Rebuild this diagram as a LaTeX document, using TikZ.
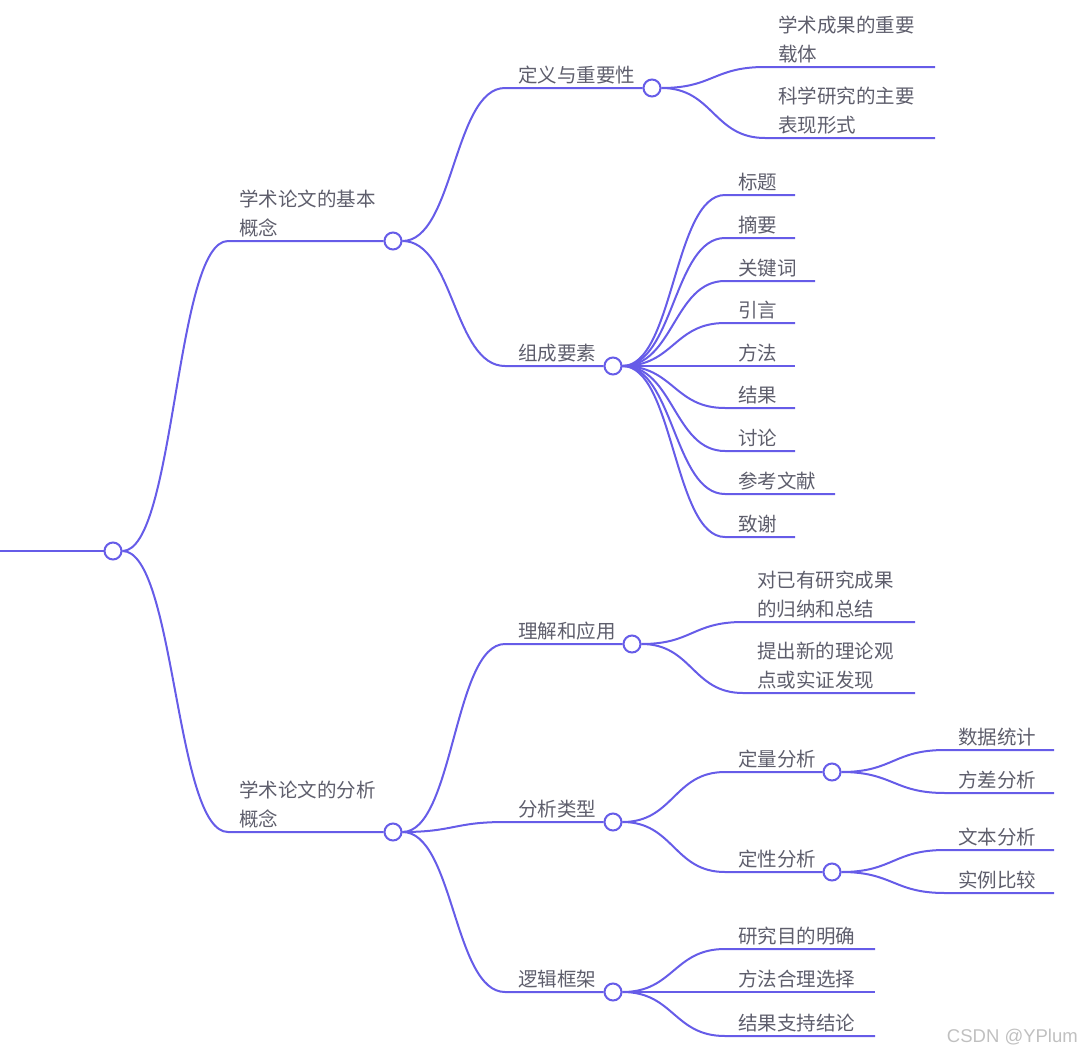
\documentclass[tikz,border=0pt]{standalone}
\usepackage{fontspec}
\setsansfont{Liberation Sans}
\newfontfamily\cjk{Noto Sans CJK SC}
\usetikzlibrary{calc}
\definecolor{branchcol}{RGB}{102,92,232}
\definecolor{labelcol}{RGB}{94,94,108}
\definecolor{markcol}{RGB}{192,192,192}

\begin{document}
\begin{tikzpicture}[
  x=1pt,y=-1pt,
  edge/.style={draw=branchcol,line width=2pt},
  dot/.style={circle,draw=branchcol,fill=white,line width=2pt,inner sep=0pt,minimum size=17pt},
  topic/.style={anchor=base west,inner sep=0pt,align=left,text=labelcol,
    font=\cjk\fontsize{19.5}{28.5}\selectfont},
  branch/.style={to path={let \p1=(\tikztostart),\p2=(\tikztotarget) in
    .. controls ({(\x1+\x2)/2},\y1) and ({(\x1+\x2)/2},\y2) .. (\tikztotarget)}}]
  \useasboundingbox (0,0) rectangle (1082,1055);

  % root: only its stem shows, the title is cut off at the left edge
  \node[dot] (r) at (113,551) {};
  \coordinate (s-r) at (0,551);
  \draw[edge] (s-r) -- (r.west);

  % first level (two-line labels sit on the baseline of their last line)
  \node[dot] (a) at (393,241) {};
  \node[dot] (b) at (393,832) {};
  \coordinate (s-a) at (228,241);
  \coordinate (s-b) at (228,832);
  \draw[edge] (r.east) to[branch] (s-a) -- (a.west);
  \draw[edge] (r.east) to[branch] (s-b) -- (b.west);
  \node[topic] (t-a) at (239,235) {学术论文的基本\\概念};
  \node[topic] (t-b) at (239,826) {学术论文的分析\\概念};

  % basic concepts
  \node[dot] (a1) at (652,88) {};
  \node[dot] (a2) at (613,366) {};
  \coordinate (s-a1) at (505,88);
  \coordinate (s-a2) at (505,366);
  \draw[edge] (a.east) to[branch] (s-a1) -- (a1.west);
  \draw[edge] (a.east) to[branch] (s-a2) -- (a2.west);
  \node[topic] (t-a1) at (518,82) {定义与重要性};
  \node[topic] (t-a2) at (518,360) {组成要素};

  \coordinate (s-a11) at (765,67);
  \coordinate (e-a11) at (935,67);
  \coordinate (s-a12) at (765,138);
  \coordinate (e-a12) at (935,138);
  \draw[edge] (a1.east) to[branch] (s-a11) -- (e-a11);
  \draw[edge] (a1.east) to[branch] (s-a12) -- (e-a12);
  \node[topic] (t-a11) at (778,61) {学术成果的重要\\载体};
  \node[topic] (t-a12) at (778,132) {科学研究的主要\\表现形式};

  % let uses \n and \p itself, so the loops count with \k
  \foreach \k/\y/\e/\t in {1/195/795/标题,2/238/795/摘要,3/281/815/关键词,
      4/323/795/引言,5/366/795/方法,6/408/795/结果,7/451/795/讨论,
      8/494/835/参考文献,9/537/795/致谢} {
    \coordinate (s-a2\k) at (725,\y);
    \coordinate (e-a2\k) at (\e,\y);
    \draw[edge] (a2.east) to[branch] (s-a2\k) -- (e-a2\k);
    \node[topic] (t-a2\k) at (738,\y-6) {\t};
  }

  % analysis concepts
  \node[dot] (b1) at (632,644) {};
  \node[dot] (b2) at (613,822) {};
  \node[dot] (b3) at (613,992) {};
  \foreach \k/\y in {1/644,2/822,3/992} {
    \coordinate (s-b\k) at (505,\y);
    \draw[edge] (b.east) to[branch] (s-b\k) -- (b\k.west);
  }
  \node[topic] (t-b1) at (518,638) {理解和应用};
  \node[topic] (t-b2) at (518,816) {分析类型};
  \node[topic] (t-b3) at (518,986) {逻辑框架};

  \coordinate (s-b11) at (743,622);
  \coordinate (e-b11) at (915,622);
  \coordinate (s-b12) at (743,693);
  \coordinate (e-b12) at (915,693);
  \draw[edge] (b1.east) to[branch] (s-b11) -- (e-b11);
  \draw[edge] (b1.east) to[branch] (s-b12) -- (e-b12);
  \node[topic] (t-b11) at (757,616) {对已有研究成果\\的归纳和总结};
  \node[topic] (t-b12) at (757,687) {提出新的理论观\\点或实证发现};

  \node[dot] (b21) at (832,772) {};
  \node[dot] (b22) at (832,872) {};
  \coordinate (s-b21) at (725,772);
  \coordinate (s-b22) at (725,872);
  \draw[edge] (b2.east) to[branch] (s-b21) -- (b21.west);
  \draw[edge] (b2.east) to[branch] (s-b22) -- (b22.west);
  \node[topic] (t-b21) at (738,766) {定量分析};
  \node[topic] (t-b22) at (738,866) {定性分析};

  \foreach \q/\k/\y/\t in {b21/1/750/数据统计,b21/2/793/方差分析,
      b22/1/850/文本分析,b22/2/893/实例比较} {
    \coordinate (s-\q\k) at (945,\y);
    \coordinate (e-\q\k) at (1054,\y);
    \draw[edge] (\q.east) to[branch] (s-\q\k) -- (e-\q\k);
    \node[topic] (t-\q\k) at (958,\y-6) {\t};
  }

  \foreach \k/\y/\t in {1/949/研究目的明确,2/992/方法合理选择,3/1036/结果支持结论} {
    \coordinate (s-b3\k) at (725,\y);
    \coordinate (e-b3\k) at (875,\y);
    \draw[edge] (b3.east) to[branch] (s-b3\k) -- (e-b3\k);
    \node[topic] (t-b3\k) at (738,\y-6) {\t};
  }

  \node[anchor=east,inner sep=0pt,text=markcol,font=\sffamily\fontsize{18.5}{18.5}\selectfont]
    (mark) at (1078,1037) {CSDN @YPlum};
\end{tikzpicture}
\end{document}
